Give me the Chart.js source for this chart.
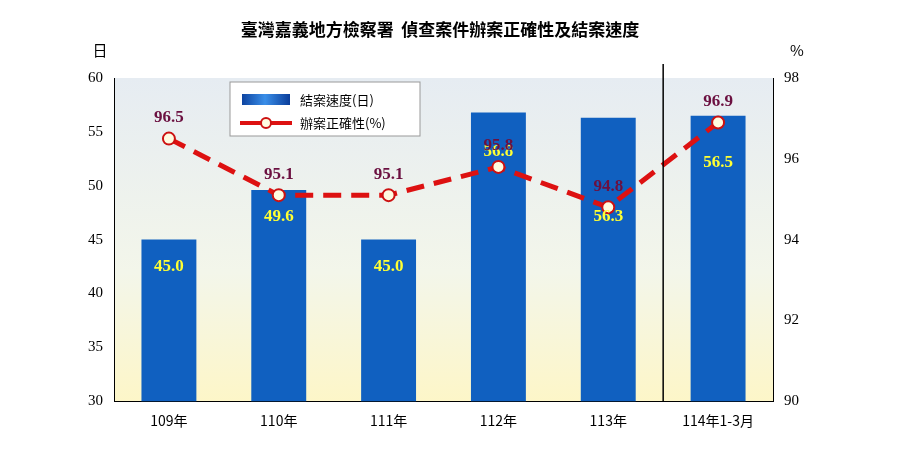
<!DOCTYPE html>
<html><head><meta charset="utf-8">
<script src="https://cdn.jsdelivr.net/npm/chart.js@4.4.0/dist/chart.umd.min.js"></script>
<style>html,body{margin:0;background:#fff}#w{width:900px;height:450px;position:relative}</style>
</head><body><div id="w"><canvas id="c" width="900" height="450"></canvas></div>
<script>
const categories=['109年','110年','111年','112年','113年','114年1-3月'];
const speedDays=[45.0,49.6,45.0,56.8,56.3,56.5];
const accuracyPct=[96.5,95.1,95.1,95.8,94.8,96.9];
const leftTicks=[30,60,5];
const rightTicks=[90,98,2];
const barLabelOffsets=[27,27,27,39,99,47];
const F='"Noto Sans CJK TC","Liberation Serif",serif';

const deco={id:'deco',
 beforeDraw(ch){const {ctx,chartArea:a}=ch;const g=ctx.createLinearGradient(0,a.top,0,a.bottom);
  g.addColorStop(0,'#e6ecf2');g.addColorStop(0.6,'#f3f6ea');g.addColorStop(1,'#fdf6c8');
  ctx.save();ctx.fillStyle=g;ctx.fillRect(a.left,a.top,a.right-a.left,a.bottom-a.top);ctx.restore();},
 afterDatasetsDraw(ch){const {ctx,chartArea:a}=ch;const x=ch.scales.x;
  const sx=(x.getPixelForValue(4)+x.getPixelForValue(5))/2;
  ctx.save();ctx.strokeStyle='#000';ctx.lineWidth=1.5;ctx.beginPath();ctx.moveTo(sx,a.top-14);ctx.lineTo(sx,a.bottom);ctx.stroke();
  ctx.font='bold 17px "Liberation Serif",serif';ctx.textAlign='center';ctx.textBaseline='middle';
  ch.getDatasetMeta(1).data.forEach((b,i)=>{ctx.fillStyle='#ffff33';ctx.fillText(speedDays[i].toFixed(1),b.x,b.y+barLabelOffsets[i]);});
  ch.getDatasetMeta(0).data.forEach((p,i)=>{ctx.fillStyle='#6b1040';ctx.fillText(accuracyPct[i].toFixed(1),p.x,p.y-21);});
  ctx.fillStyle='#000';ctx.font='bold 17px '+F;ctx.fillText('臺灣嘉義地方檢察署  偵查案件辦案正確性及結案速度',440,30);
  ctx.font='15px '+F;ctx.fillText('日',100,50);ctx.fillText('%',797,50);
  ctx.restore();}};

const ctx=document.getElementById('c').getContext('2d');
new Chart(ctx,{data:{labels:categories,datasets:[
 {type:'line',label:'辦案正確性(%)',data:accuracyPct,yAxisID:'y2',borderColor:'#dd1111',borderWidth:5,borderDash:[18,10],
  pointBackgroundColor:'#fffbe0',pointBorderColor:'#cc1111',pointBorderWidth:2,pointRadius:6,order:0},
 {type:'bar',label:'結案速度(日)',data:speedDays,yAxisID:'y',barPercentage:0.5,categoryPercentage:1,order:1,
  backgroundColor(c){const ch=c.chart,a=ch.chartArea;if(!a)return '#1060c0';const el=c.element;if(!el||!el.width)return '#1060c0';
   const w=el.width,x0=el.x-w/2;const g=ch.ctx.createLinearGradient(x0,0,x0+w,0);
   g.addColorStop(0,'#0a3d9a');g.addColorStop(0.4,'#3a8ee8');g.addColorStop(0.6,'#2f80dd');g.addColorStop(1,'#0a3d9a');return g;}}
]},
options:{responsive:false,animation:false,layout:{padding:{top:78,left:85,right:98,bottom:18}},
 plugins:{legend:{display:false},tooltip:{enabled:false}},
 scales:{x:{grid:{display:false},border:{color:'#000'},ticks:{color:'#000',font:{family:F,size:14}}},
  y:{position:'left',min:leftTicks[0],max:leftTicks[1],ticks:{stepSize:leftTicks[2],color:'#000',font:{family:'"Liberation Serif",serif',size:15}},grid:{display:false},border:{color:'#000'}},
  y2:{position:'right',min:rightTicks[0],max:rightTicks[1],ticks:{stepSize:rightTicks[2],color:'#000',font:{family:'"Liberation Serif",serif',size:15}},grid:{display:false},border:{color:'#000'}}}},
plugins:[deco,{id:'leg',afterDraw(ch){const c=ch.ctx;c.save();c.fillStyle='#fff';c.strokeStyle='#999';c.lineWidth=1;
 c.fillRect(230,82,190,54);c.strokeRect(230,82,190,54);
 const g=c.createLinearGradient(240,0,290,0);g.addColorStop(0,'#0a3d9a');g.addColorStop(0.5,'#3a8ee8');g.addColorStop(1,'#0a3d9a');
 c.fillStyle=g;c.fillRect(242,94,48,11);
 c.strokeStyle='#dd1111';c.lineWidth=4;c.beginPath();c.moveTo(240,123);c.lineTo(292,123);c.stroke();
 c.fillStyle='#fffbe0';c.strokeStyle='#cc1111';c.lineWidth=2;c.beginPath();c.arc(266,123,5,0,7);c.fill();c.stroke();
 c.fillStyle='#000';c.font='13px '+F;c.textBaseline='middle';c.fillText('結案速度(日)',300,100);c.fillText('辦案正確性(%)',300,123);c.restore();}}]});
</script></body></html>
